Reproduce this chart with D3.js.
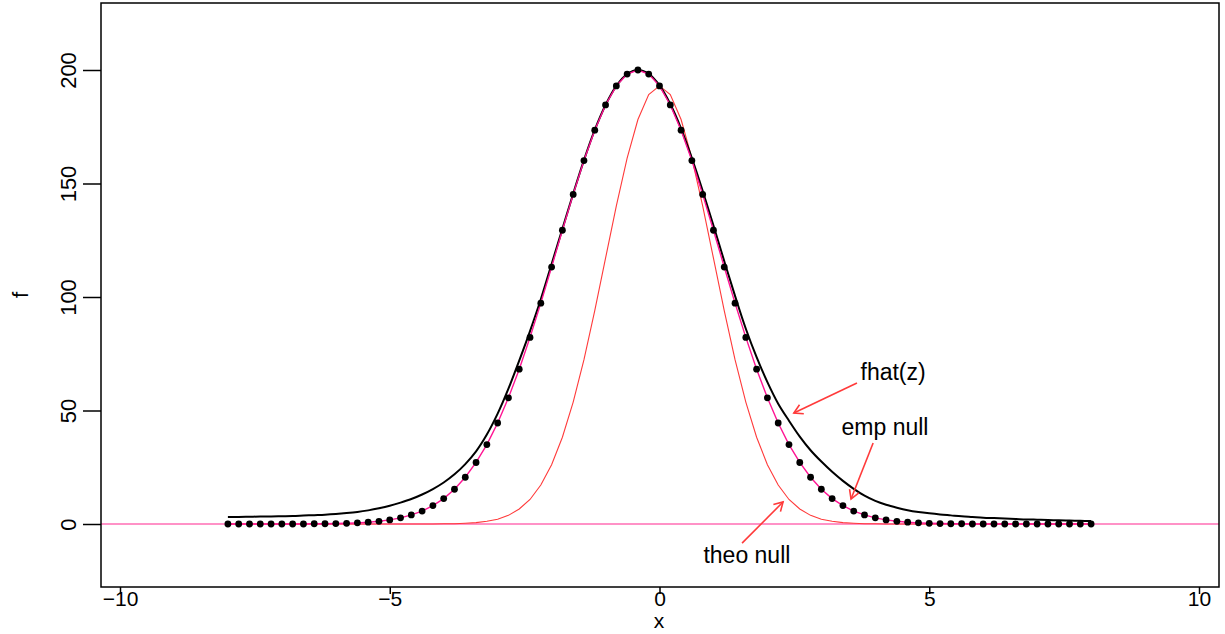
<!DOCTYPE html>
<html lang="en">
<head>
	<meta charset="utf-8">
	<title>fhat(z), empirical and theoretical null</title>
	<style>
	body { margin: 0; background: #fff; }
	svg text { font-family: "Liberation Sans", Arial, sans-serif; }
	</style>
</head>
<body>
	<svg width="1225" height="634"></svg>
	<script src="https://d3js.org/d3.v7.min.js" charset="utf-8"></script>
	<script>

	// grid of z values (step 0.2)
	var zGrid = [-8.0,-7.8,-7.6,-7.4,-7.2,-7.0,-6.8,-6.6,-6.4,-6.2,
		-6.0,-5.8,-5.6,-5.4,-5.2,-5.0,-4.8,-4.6,-4.4,-4.2,
		-4.0,-3.8,-3.6,-3.4,-3.2,-3.0,-2.8,-2.6,-2.4,-2.2,
		-2.0,-1.8,-1.6,-1.4,-1.2,-1.0,-0.8,-0.6,-0.4,-0.2,
		0.0,0.2,0.4,0.6,0.8,1.0,1.2,1.4,1.6,1.8,
		2.0,2.2,2.4,2.6,2.8,3.0,3.2,3.4,3.6,3.8,
		4.0,4.2,4.4,4.6,4.8,5.0,5.2,5.4,5.6,5.8,
		6.0,6.2,6.4,6.6,6.8,7.0,7.2,7.4,7.6,7.8,8.0];

	// mixture density estimate (black line)
	var fhat = [3.1,3.1,3.2,3.3,3.3,3.4,3.5,3.7,3.9,4.1,
		4.4,4.8,5.3,6.0,6.9,8.0,9.4,11.0,13.0,15.4,
		18.3,21.9,26.4,32.0,39.4,48.6,59.6,72.0,85.0,99.0,
		114.5,130.0,145.5,160.3,173.6,184.6,193.0,198.2,200.0,198.3,
		193.2,185.0,174.2,161.2,146.8,131.5,115.8,100.5,86.0,73.5,
		62.5,53.0,45.5,38.5,32.5,27.5,23.0,19.0,15.5,12.5,
		10.2,8.5,7.2,6.1,5.3,4.7,4.2,3.8,3.4,3.1,
		2.8,2.6,2.4,2.2,2.0,1.9,1.8,1.6,1.5,1.4,1.3];

	// empirical null (dots + pink line)
	var empNull = [0,0,0,0,0,0,0,0,0.1,0.1,
		0.2,0.3,0.5,0.8,1.2,1.8,2.7,4.0,5.7,8.1,
		11.2,15.3,20.6,27.1,35.0,44.5,55.6,68.2,82.2,97.3,
		113.2,129.4,145.2,160.1,173.5,184.6,193.0,198.2,200.0,198.2,
		193.0,184.6,173.5,160.1,145.2,129.4,113.2,97.3,82.2,68.2,
		55.6,44.5,35.0,27.1,20.6,15.3,11.2,8.1,5.7,4.0,
		2.7,1.8,1.2,0.8,0.5,0.3,0.2,0.1,0.1,0,
		0,0,0,0,0,0,0,0,0,0,0];

	// theoretical null (thin red line)
	var theoNull = [0,0,0,0,0,0,0,0,0,0,
		0,0,0,0,0,0,0,0,0,0,
		0.1,0.1,0.3,0.6,1.2,2.1,3.8,6.6,10.8,17.2,
		26.1,38.2,53.7,72.4,94.0,117.1,140.1,161.2,178.2,189.2,
		193.0,189.2,178.2,161.2,140.1,117.1,94.0,72.4,53.7,38.2,
		26.1,17.2,10.8,6.6,3.8,2.1,1.2,0.6,0.3,0.1,
		0.1,0,0,0,0,0,0,0,0,0,
		0,0,0,0,0,0,0,0,0,0,0];

	var xTicks = [-10, -5, 0, 5, 10];
	var yTicks = [0, 50, 100, 150, 200];

	var labels = [
		{text: "fhat(z)",   x: 4.33, y: 67.0},
		{text: "emp null",  x: 4.18, y: 42.7},
		{text: "theo null", x: 1.62, y: -13.7}
	];
	var arrows = [
		{x0: 3.66, y0: 62.1, x1: 2.49, y1: 48.9},
		{x0: 3.96, y0: 35.7, x1: 3.55, y1: 11.0},
		{x0: 1.53, y0: -8.4, x1: 2.29, y1: 9.7}
	];

	var svg = d3.select("svg");

	var box = {left: 101, right: 1219, top: 3, bottom: 587};

	var x = d3.scaleLinear().domain([-10, 10]).range([120, 1199]);
	var y = d3.scaleLinear().domain([0, 200]).range([524, 70]);

	var pts = function(vals) {
		return zGrid.map(function(z, i) { return [z, vals[i]]; });
	};
	var line = d3.line()
		.x(function(d) { return x(d[0]); })
		.y(function(d) { return y(d[1]); });

	// zero line
	svg.append("line")
		.attr("x1", box.left).attr("x2", box.right)
		.attr("y1", y(0)).attr("y2", y(0))
		.attr("stroke", "#ff6eb4")
		.attr("stroke-width", 1.6);

	// theo null
	svg.append("path")
		.datum(pts(theoNull))
		.attr("d", line)
		.attr("fill", "none")
		.attr("stroke", "#ff3a3a")
		.attr("stroke-width", 1.1);

	// fhat
	svg.append("path")
		.datum(pts(fhat))
		.attr("d", line.curve(d3.curveCatmullRom))
		.attr("fill", "none")
		.attr("stroke", "#000")
		.attr("stroke-width", 2);

	// emp null line
	svg.append("path")
		.datum(pts(empNull))
		.attr("d", line.curve(d3.curveLinear))
		.attr("fill", "none")
		.attr("stroke", "#ff1493")
		.attr("stroke-width", 1.4);

	// emp null dots
	svg.append("g")
		.selectAll("circle")
		.data(pts(empNull))
		.enter().append("circle")
		.attr("cx", function(d) { return x(d[0]); })
		.attr("cy", function(d) { return y(d[1]); })
		.attr("r", 3.4)
		.attr("fill", "#000");

	// annotation arrows
	var head = 10, ang = Math.PI / 6;
	arrows.forEach(function(a) {
		var px0 = x(a.x0), py0 = y(a.y0), px1 = x(a.x1), py1 = y(a.y1);
		var t = Math.atan2(py0 - py1, px0 - px1);
		var g = svg.append("g")
			.attr("stroke", "#ff3a3a")
			.attr("stroke-width", 1.6)
			.attr("fill", "none");
		g.append("line")
			.attr("x1", px0).attr("y1", py0)
			.attr("x2", px1).attr("y2", py1);
		g.append("path")
			.attr("d", "M" + (px1 + head * Math.cos(t + ang)) + "," + (py1 + head * Math.sin(t + ang)) +
				"L" + px1 + "," + py1 +
				"L" + (px1 + head * Math.cos(t - ang)) + "," + (py1 + head * Math.sin(t - ang)));
	});

	svg.selectAll(".lab")
		.data(labels)
		.enter().append("text")
		.attr("class", "lab")
		.attr("x", function(d) { return x(d.x); })
		.attr("y", function(d) { return y(d.y); })
		.attr("dy", "0.36em")
		.attr("text-anchor", "middle")
		.attr("font-size", "23px")
		.attr("fill", "#000")
		.text(function(d) { return d.text; });

	// box
	svg.append("rect")
		.attr("x", box.left).attr("y", box.top)
		.attr("width", box.right - box.left)
		.attr("height", box.bottom - box.top)
		.attr("fill", "none")
		.attr("stroke", "#000")
		.attr("stroke-width", 1.5);

	// axes
	var xAxis = svg.append("g")
		.attr("transform", "translate(0," + box.bottom + ")")
		.call(d3.axisBottom(x).tickValues(xTicks).tickSize(7).tickFormat(function(d) { return d < 0 ? "\u2212" + (-d) : d; }));
	xAxis.select(".domain").remove();
	xAxis.selectAll("line").attr("stroke-width", 1.5);
	xAxis.selectAll("text").attr("font-size", "21px").attr("fill", "#000").attr("dy", "0.45em");

	var yAxis = svg.append("g")
		.attr("transform", "translate(" + box.left + ",0)")
		.call(d3.axisLeft(y).tickValues(yTicks).tickSize(18));
	yAxis.select(".domain").remove();
	yAxis.selectAll("line").attr("stroke-width", 1.5);
	yAxis.selectAll("text")
		.attr("font-size", "22px")
		.attr("fill", "#000")
		.attr("x", null).attr("dy", null)
		.attr("text-anchor", "middle")
		.attr("transform", "translate(-25,0) rotate(-90)");

	svg.append("text")
		.attr("x", 659).attr("y", 628)
		.attr("text-anchor", "middle")
		.attr("font-size", "21px")
		.text("x");

	svg.append("text")
		.attr("transform", "translate(28,295) rotate(-90)")
		.attr("text-anchor", "middle")
		.attr("font-size", "22px")
		.text("f");
	</script>
</body>
</html>
